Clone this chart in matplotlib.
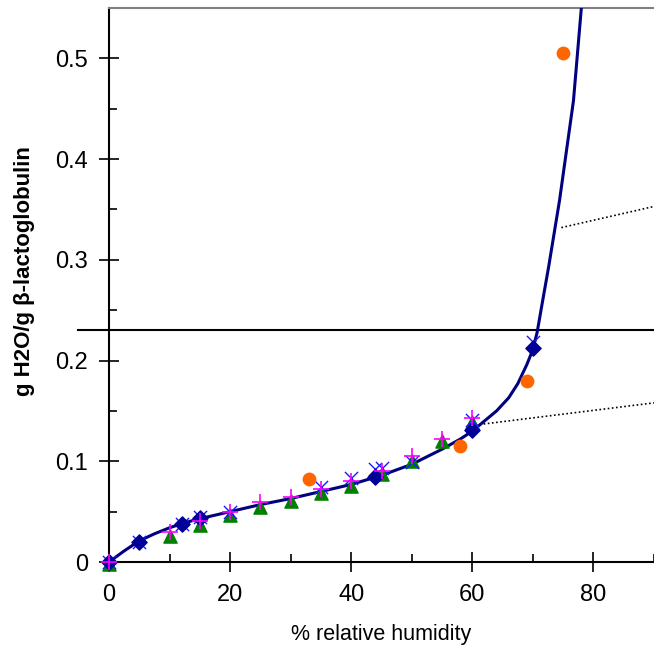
import numpy as np
import matplotlib.pyplot as plt
from matplotlib.ticker import MultipleLocator

plt.rcParams['font.family'] = ['Liberation Sans', 'DejaVu Sans']

# fitted sorption curve
curve_rh = [0, 2.5, 5, 7.5, 10, 12.5, 15, 20, 25, 30, 35, 40, 45, 50, 55, 58,
            60, 62, 64, 66, 67.5, 69, 70, 70.7, 71.6, 72.6, 74.4, 76.7, 78.0]
curve_w = [0, 0.011, 0.021, 0.028, 0.034, 0.039, 0.043, 0.050, 0.057, 0.063,
           0.070, 0.077, 0.086, 0.097, 0.112, 0.122, 0.130, 0.140, 0.150,
           0.163, 0.177, 0.196, 0.211, 0.228, 0.259, 0.293, 0.359, 0.458, 0.550]

# data sets
dia_rh = [0, 5, 12, 15, 44, 60, 70]
dia_w = [0, 0.020, 0.038, 0.044, 0.084, 0.131, 0.212]

x_rh = [0, 5, 12, 15, 20, 35, 40, 44, 45, 50, 60, 70]
x_w = [0, 0.020, 0.038, 0.045, 0.050, 0.074, 0.083, 0.092, 0.093, 0.099, 0.141, 0.218]

plus_rh = [0, 10, 15, 20, 25, 30, 35, 40, 45, 50, 55, 60]
plus_w = [0, 0.030, 0.041, 0.050, 0.060, 0.065, 0.072, 0.080, 0.090, 0.105, 0.122, 0.143]

tri_rh = [0, 10, 15, 20, 25, 30, 35, 40, 45, 50, 55, 60]
tri_w = [-0.002, 0.026, 0.037, 0.047, 0.055, 0.061, 0.069, 0.075, 0.087, 0.100, 0.120, 0.139]

circ_rh = [33, 58, 69, 75]
circ_w = [0.082, 0.115, 0.180, 0.505]

# dotted guide lines
dot1_rh = [60.5, 90]
dot1_w = [0.136, 0.158]
dot2_rh = [74.7, 90]
dot2_w = [0.332, 0.353]

hline_w = 0.23

fig = plt.figure(figsize=(6.54, 6.51), dpi=100)
ax = fig.add_axes([0.1667, 0.1367, 0.8333, 0.851])

ax.plot(curve_rh, curve_w, color='#000080', lw=2.2, zorder=3, solid_joinstyle='round')
ax.plot(dot1_rh, dot1_w, color='black', lw=1.2, ls=(0, (1, 1.5)), zorder=2)
ax.plot(dot2_rh, dot2_w, color='black', lw=1.2, ls=(0, (1, 1.5)), zorder=2)
ax.plot([-5.2, 90], [hline_w, hline_w], color='black', lw=1.5, clip_on=False, zorder=2)

ax.scatter(tri_rh, tri_w, marker='^', s=90, color='#008000', zorder=4, clip_on=False)
ax.scatter(x_rh, x_w, marker='x', s=90, color='#1a1aff', linewidths=1, zorder=5, clip_on=False)
ax.scatter(dia_rh, dia_w, marker='D', s=60, color='#000099', zorder=6, clip_on=False)
ax.scatter(plus_rh, plus_w, marker='+', s=120, color='#ff00ff', linewidths=1.2, zorder=7, clip_on=False)
ax.scatter(circ_rh, circ_w, marker='o', s=80, color='#ff6600', zorder=6, clip_on=False)

ax.set_xlim(0, 90)
ax.set_ylim(0, 0.55)
ax.xaxis.set_major_locator(MultipleLocator(20))
ax.xaxis.set_minor_locator(MultipleLocator(10))
ax.yaxis.set_major_locator(MultipleLocator(0.1))
ax.yaxis.set_minor_locator(MultipleLocator(0.05))
ax.set_yticks([0, 0.1, 0.2, 0.3, 0.4, 0.5], ['0', '0.1', '0.2', '0.3', '0.4', '0.5'])

ax.tick_params(which='major', direction='inout', length=14, width=1.2, labelsize=17)
ax.tick_params(axis='y', which='major', pad=8)
ax.tick_params(axis='x', which='major', pad=9)
ax.tick_params(which='minor', direction='in', length=6, width=1.2)

ax.spines['right'].set_visible(False)
ax.spines['top'].set_color('#808080')
ax.spines['top'].set_linewidth(1.5)
ax.spines['left'].set_linewidth(1.5)
ax.spines['bottom'].set_linewidth(1.5)

ax.set_xlabel('% relative humidity', fontsize=15.5, labelpad=13)
ax.set_ylabel('g H2O/g \u03b2-lactoglobulin', fontsize=16, fontweight='bold', labelpad=14)
ax.yaxis.set_label_coords(-0.135, 0.525)

fig.savefig('out.png', dpi=100)
